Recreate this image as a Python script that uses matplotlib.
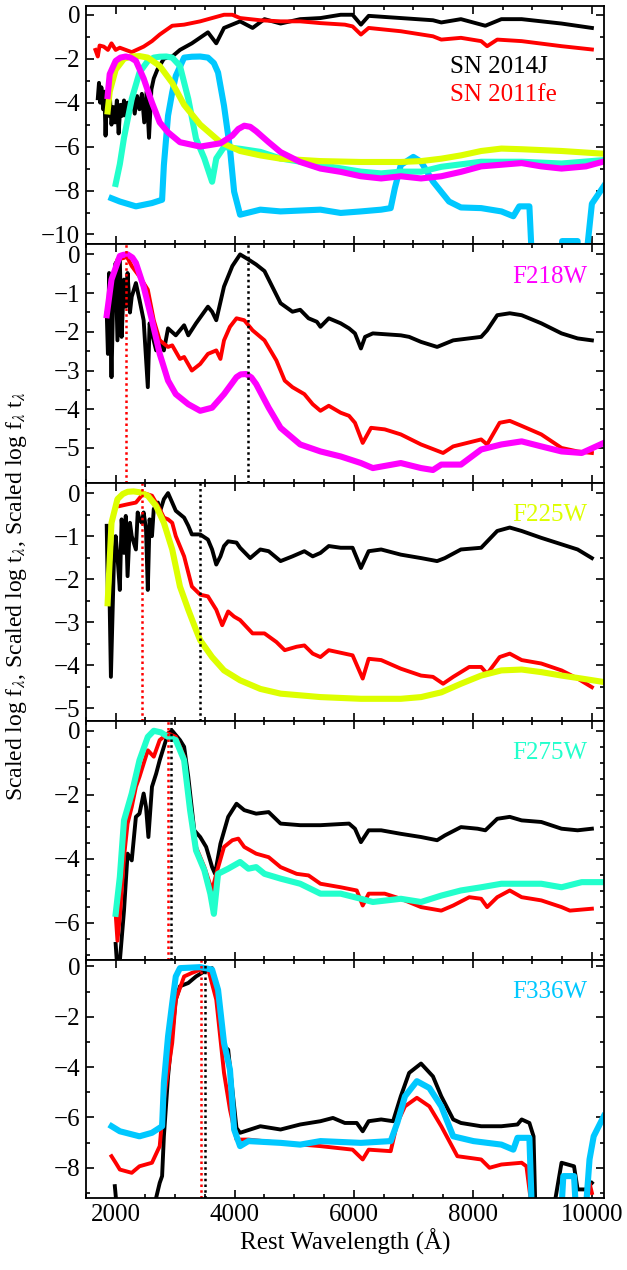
import numpy as np
import matplotlib

matplotlib.use("Agg")
import matplotlib.pyplot as plt
from matplotlib.ticker import MultipleLocator

plt.rcParams["font.family"] = ["Liberation Serif", "DejaVu Serif"]
plt.rcParams["mathtext.fontset"] = "stix"

nan = np.nan

# ---- panel 1: spectra and filter curves ----
p1_j14_wl = [1700, 1720, 1740, 1760, 1790, 1810, 1830, 1850, 1880, 1900, 1930, 1960, 1990, 2020,
             2050, 2080, 2110, 2140, 2170, 2200, 2240, 2280, 2320, 2360, 2400, 2440, 2480, 2520,
             2560, 2600, 2640, 2700, 2810, 2950, 3080, 3280, 3550, 3690, 3820, 4090, 4300, 4500,
             4770, 5100, 5440, 5780, 5980, 6120, 6250, 6790, 7330, 7470, 7800, 8210, 8480, 8820,
             9490, 10000]
p1_j14 = [-3.8, -3.1, -4.0, -3.3, -4.3, -3.5, -5.5, -3.8, -4.6, -3.6, -5.0, -4.2, -4.9, -3.9,
          -5.4, -4.1, -4.6, -3.9, -4.6, -4.0, -4.4, -3.8, -4.5, -3.7, -4.3, -3.6, -4.9, -3.5,
          -5.6, -3.4, -2.9, -2.5, -2.0, -1.9, -1.6, -1.3, -0.8, -1.3, -0.6, -0.3, -0.6, -0.2,
          -0.4, -0.2, -0.15, 0.0, 0.0, -0.45, -0.05, -0.15, -0.25, -0.35, -0.2, -0.5, -0.2, -0.2,
          -0.4, -0.6]
p1_f11_wl = [1660, 1700, 1730, 1800, 1870, 1930, 2000, 2070, 2270, 2470, 2610, 2740, 2950, 3150,
             3420, 3620, 3820, 3960, 4090, 4430, 4770, 5100, 5440, 5850, 5980, 6120, 6250, 6790,
             7330, 7470, 7800, 8140, 8240, 8410, 8820, 9490, 10000]
p1_f11 = [-1.6, -1.9, -1.4, -1.45, -1.6, -1.3, -1.6, -1.5, -1.7, -1.45, -1.2, -0.9, -0.5, -0.45,
          -0.3, -0.15, 0.0, 0.0, -0.15, -0.25, -0.3, -0.3, -0.38, -0.45, -0.53, -0.9, -0.6, -0.75,
          -0.98, -1.13, -1.05, -1.2, -1.43, -1.13, -1.2, -1.43, -1.58]
p1_f218_wl = [1865, 1900, 2000, 2080, 2170, 2250, 2340, 2470, 2610, 2740, 2880, 3080, 3420, 3760,
              3960, 4060, 4160, 4260, 4360, 4570, 4770, 5100, 5440, 5780, 6120, 6460, 6790, 7130,
              7470, 7800, 8140, 8820, 9150, 9490, 9900, 10170]
p1_f218 = [-3.7, -2.7, -2.1, -1.95, -1.9, -1.95, -2.1, -2.9, -4.0, -4.9, -5.35, -5.8, -6.0, -5.85,
           -5.5, -5.2, -5.05, -5.1, -5.3, -5.8, -6.25, -6.7, -7.0, -7.15, -7.35, -7.45, -7.35,
           -7.45, -7.35, -7.15, -6.9, -6.75, -6.9, -7.0, -6.9, -6.7]
p1_f225_wl = [1865, 1900, 2000, 2140, 2270, 2400, 2540, 2740, 2950, 3150, 3420, 3760, 4090, 4430,
              4770, 5440, 6120, 6790, 7130, 7470, 7800, 8140, 8480, 8820, 9490, 10170]
p1_f225 = [-4.4, -3.5, -2.5, -2.0, -1.9, -1.88, -1.95, -2.33, -3.1, -4.1, -5.0, -5.8, -6.2, -6.4,
           -6.55, -6.66, -6.7, -6.7, -6.66, -6.55, -6.4, -6.2, -6.09, -6.12, -6.2, -6.32]
p1_f275_wl = [2000, 2070, 2140, 2270, 2400, 2540, 2640, 2740, 2850, 2950, 3080, 3220, 3350, 3490,
              3620, 3690, 3820, 4090, 4430, 4770, 5440, 6120, 6460, 6790, 7130, 7470, 8140, 8820,
              9490, 10170]
p1_f275 = [-7.7, -6.8, -5.6, -3.83, -2.63, -2.1, -1.95, -1.91, -1.9, -1.95, -2.33, -3.83, -5.64,
           -6.54, -7.6, -6.54, -6.02, -6.1, -6.24, -6.54, -6.84, -7.14, -7.22, -7.14, -7.14,
           -6.92, -6.69, -6.69, -6.77, -6.62]
p1_f336_wl = [1930, 2070, 2340, 2610, 2780, 2810, 2880, 2950, 3010, 3150, 3280, 3420, 3550, 3650,
              3720, 3820, 3920, 3990, 4090, 4430, 4770, 5440, 5780, 6120, 6460, 6620, 6690, 6790,
              7000, 7130, 7330, 7600, 7800, 8140, 8480, 8680, 8780, 8950, 8990, 9490, 9500, 9760,
              9770, 9900, 9930, 10000, 10100, 10200]
p1_f336 = [-8.35, -8.5, -8.72, -8.57, -8.42, -6.84, -4.59, -3.53, -2.78, -1.95, -1.91, -1.9,
           -1.95, -2.2, -2.63, -4.14, -6.09, -8.05, -9.1, -8.87, -8.95, -8.87, -9.02, -8.95,
           -8.87, -8.8, -7.89, -6.84, -6.47, -6.69, -7.59, -8.5, -8.77, -8.8, -8.95, -9.17, -8.72,
           -8.72, -11.0, -11.0, -10.3, -10.3, -11.0, -11.0, -10.4, -8.6, -8.2, -7.8]

# ---- panel 2: F218W ----
p2_j14_wl = [1850, 1870, 1890, 1930, 1960, 2000, 2030, 2070, 2100, 2140, 2170, 2200, 2240, 2270,
             2340, 2400, 2470, 2540, 2570, 2610, 2680, 2740, 2810, 2880, 3010, 3150, 3220, 3350,
             3550, 3620, 3690, 3820, 3960, 4090, 4230, 4360, 4500, 4630, 4770, 4970, 5100, 5240,
             5380, 5440, 5580, 5780, 5920, 6020, 6120, 6190, 6320, 6790, 6930, 7130, 7400, 7670,
             8140, 8240, 8410, 8620, 8820, 9150, 9490, 9760, 10000]
p2_j14 = [-1.52, -2.57, -0.48, -3.17, -1.0, -0.22, -2.22, -0.13, -2.13, -0.65, -1.35, -0.48, -1.5,
          -1.09, -0.74, -1.17, -1.7, -3.43, -1.78, -2.04, -2.48, -2.22, -2.48, -1.91, -2.09, -1.83,
          -2.09, -1.78, -1.35, -1.48, -1.7, -0.83, -0.3, 0.0, -0.13, -0.26, -0.43, -0.83, -1.26,
          -1.48, -1.43, -1.65, -1.74, -1.87, -1.65, -1.78, -1.91, -2.04, -2.43, -2.13, -2.04,
          -2.09, -2.13, -2.26, -2.39, -2.22, -2.13, -1.96, -1.57, -1.52, -1.57, -1.78, -2.04,
          -2.17, -2.22]
p2_f11_wl = [2000, 2030, 2140, 2170, 2270, 2400, 2540, 2640, 2740, 2880, 2950, 3080, 3150, 3280,
             3420, 3550, 3690, 3760, 3820, 3920, 4030, 4160, 4300, 4500, 4700, 4840, 4970, 5170,
             5310, 5440, 5580, 5780, 5920, 6020, 6150, 6290, 6520, 6790, 7130, 7500, 7670, 8140,
             8240, 8450, 8620, 8820, 9150, 9490, 9760, 10000]
p2_f11 = [-0.3, -0.13, -0.09, 0.0, -0.3, -0.57, -0.91, -1.7, -2.22, -2.39, -2.35, -2.7, -2.65,
          -3.0, -2.83, -2.57, -2.48, -2.7, -2.22, -1.87, -1.65, -1.7, -1.96, -2.22, -2.74, -3.26,
          -3.43, -3.61, -3.87, -4.04, -3.91, -4.09, -4.17, -4.35, -4.87, -4.48, -4.52, -4.65,
          -4.91, -5.13, -4.96, -4.78, -4.91, -4.35, -4.3, -4.43, -4.65, -5.0, -5.09, -5.13]
p2_filt_wl = [1850, 1930, 2070, 2130, 2200, 2280, 2340, 2470, 2610, 2740, 2880, 3010, 3220, 3420,
              3620, 3820, 4030, 4100, 4190, 4280, 4360, 4570, 4770, 5100, 5440, 5780, 6120, 6320,
              6790, 7130, 7330, 7470, 7800, 8140, 8480, 8820, 9150, 9490, 9830, 10200]
p2_filt = [-1.57, -0.65, -0.04, -0.01, 0.0, -0.08, -0.22, -0.83, -1.7, -2.57, -3.26, -3.61, -3.87,
           -4.04, -3.96, -3.61, -3.17, -3.1, -3.09, -3.18, -3.35, -3.96, -4.48, -4.91, -5.09,
           -5.22, -5.39, -5.52, -5.39, -5.52, -5.57, -5.43, -5.43, -5.04, -4.91, -4.83, -4.96,
           -5.09, -5.13, -4.87]

# ---- panel 3: F225W ----
p3_j14_wl = [1850, 1870, 1880, 1920, 1970, 2000, 2030, 2070, 2100, 2140, 2170, 2200, 2240, 2270,
             2340, 2370, 2400, 2440, 2470, 2510, 2540, 2570, 2610, 2640, 2710, 2740, 2810, 2880,
             2950, 3010, 3150, 3220, 3280, 3420, 3550, 3620, 3690, 3760, 3820, 3890, 4030, 4090,
             4260, 4430, 4570, 4770, 4970, 5170, 5310, 5440, 5580, 5780, 5980, 6120, 6250, 6460,
             6790, 7130, 7400, 7530, 7800, 8140, 8410, 8620, 8820, 9150, 9490, 9760, 10000]
p3_j14 = [-0.76, -2.56, -1.0, -4.27, -1.62, -1.0, -1.47, -2.25, -0.61, -1.39, -0.53, -1.93, -0.69,
          -1.0, -1.31, -0.45, -0.61, -0.69, -0.45, -0.84, -2.25, -0.61, -1.0, -0.37, -0.22, -0.45,
          -0.14, 0.0, -0.22, -0.41, -0.57, -0.76, -0.96, -0.96, -1.08, -1.31, -1.66, -1.47, -1.23,
          -1.12, -1.15, -1.27, -1.51, -1.31, -1.35, -1.58, -1.47, -1.35, -1.47, -1.39, -1.23,
          -1.27, -1.27, -1.74, -1.35, -1.31, -1.43, -1.51, -1.58, -1.51, -1.31, -1.27, -0.88,
          -0.8, -0.88, -1.04, -1.19, -1.31, -1.51]
p3_f11_wl = [2070, 2200, 2340, 2470, 2610, 2740, 2810, 2880, 2950, 3010, 3150, 3280, 3420, 3550,
             3690, 3790, 3890, 3990, 4090, 4300, 4500, 4700, 4840, 5040, 5170, 5310, 5440, 5580,
             5780, 5980, 6150, 6250, 6460, 6790, 7130, 7330, 7500, 7670, 7940, 8140, 8240, 8450,
             8620, 8820, 9150, 9490, 9760, 10000]
p3_f11 = [-0.3, -0.26, -0.22, 0.0, -0.06, -0.37, -0.57, -0.61, -0.69, -1.0, -1.47, -2.17, -2.36,
          -2.4, -2.71, -3.07, -2.75, -2.87, -2.95, -3.26, -3.26, -3.46, -3.65, -3.57, -3.54,
          -3.73, -3.81, -3.65, -3.71, -3.77, -4.31, -3.85, -3.88, -4.08, -4.24, -4.27, -4.43,
          -4.27, -4.04, -4.04, -4.2, -3.81, -3.73, -3.88, -3.96, -4.12, -4.31, -4.51]
p3_filt_wl = [1865, 1930, 2030, 2120, 2200, 2300, 2400, 2540, 2680, 2810, 2950, 3080, 3220, 3350,
              3420, 3620, 3820, 4090, 4430, 4770, 5440, 6120, 6790, 7130, 7470, 7800, 8140, 8480,
              8820, 9150, 9490, 9830, 10200]
p3_filt = [-2.56, -0.69, -0.14, -0.02, 0.03, 0.04, 0.02, -0.06, -0.3, -0.69, -1.31, -2.17, -2.71,
           -3.18, -3.42, -3.81, -4.12, -4.35, -4.55, -4.66, -4.74, -4.78, -4.78, -4.74, -4.63,
           -4.43, -4.24, -4.12, -4.1, -4.16, -4.24, -4.31, -4.39]

# ---- panel 4: F275W ----
p4_j14_wl = [2000, 2030, 2070, 2140, 2200, 2270, 2340, 2400, 2470, 2510, 2550, 2610, 2680, 2740,
             2810, 2880, 2950, 3080, 3150, 3220, 3320, 3420, 3520, 3620, 3670, 3760, 3890, 4030,
             4160, 4360, 4570, 4770, 5100, 5440, 5920, 6020, 6120, 6250, 6460, 6790, 7130, 7400,
             7530, 7800, 8080, 8210, 8410, 8620, 8820, 9150, 9490, 9760, 10000]
p4_j14 = [-6.66, -7.5, -7.2, -5.62, -3.84, -4.05, -2.69, -2.59, -1.96, -2.38, -3.32, -1.75, -1.34,
          -0.92, -0.5, -0.08, 0.0, -0.29, -0.5, -1.44, -3.11, -3.32, -3.63, -4.26, -4.47, -3.53,
          -2.69, -2.28, -2.48, -2.59, -2.54, -2.9, -2.95, -2.95, -2.9, -3.06, -3.48, -3.11, -3.11,
          -3.22, -3.32, -3.42, -3.27, -3.01, -3.06, -3.11, -2.75, -2.69, -2.8, -2.85, -3.06,
          -3.11, -3.06]
p4_f11_wl = [2000, 2030, 2070, 2140, 2200, 2270, 2340, 2400, 2540, 2640, 2740, 2880, 3010, 3150,
             3220, 3350, 3490, 3620, 3690, 3820, 3960, 4060, 4160, 4360, 4570, 4770, 5040, 5240,
             5440, 5780, 6050, 6150, 6250, 6520, 6790, 7130, 7470, 7670, 7940, 8140, 8240, 8410,
             8620, 8820, 9150, 9490, 9630, 10000]
p4_f11 = [-5.72, -6.56, -5.82, -3.95, -2.9, -2.38, -1.75, -1.44, -0.61, -0.81, -0.29, -0.08,
          -0.19, -0.81, -1.96, -3.63, -4.26, -4.99, -4.47, -3.63, -3.42, -3.37, -3.63, -3.84,
          -3.95, -4.26, -4.47, -4.52, -4.78, -4.89, -4.99, -5.46, -5.09, -5.09, -5.25, -5.51,
          -5.62, -5.46, -5.2, -5.25, -5.51, -5.2, -4.99, -5.2, -5.3, -5.51, -5.62, -5.56]
p4_filt_wl = [2000, 2070, 2140, 2270, 2400, 2540, 2640, 2760, 2880, 3010, 3150, 3250, 3350, 3490,
              3590, 3650, 3720, 3890, 4090, 4230, 4360, 4500, 4770, 5100, 5440, 5780, 6120, 6320,
              6790, 7130, 7470, 7800, 8140, 8480, 8820, 9150, 9490, 9830, 10200]
p4_filt = [-5.72, -4.57, -2.8, -1.96, -0.92, -0.19, 0.0, -0.05, -0.19, -0.29, -0.92, -2.48, -3.74,
           -4.36, -5.09, -5.72, -4.47, -4.31, -4.1, -4.31, -4.26, -4.47, -4.62, -4.78, -5.09,
           -5.09, -5.25, -5.35, -5.25, -5.35, -5.15, -4.99, -4.89, -4.78, -4.78, -4.78, -4.89,
           -4.73, -4.73]

# ---- panel 5: F336W ----
p5_j14_wl = [1986, 2020, 2640, 2680, 2740, 2780, 2810, 2880, 2950, 3010, 3080, 3220, 3350, 3490,
             3620, 3720, 3820, 3890, 3960, 4030, 4090, 4430, 4770, 5100, 5440, 5650, 5850, 6050,
             6150, 6250, 6460, 6660, 6790, 6930, 7130, 7330, 7470, 7670, 7800, 8140, 8480, 8750,
             8820, 8950, 9020, 9050, 9360, 9490, 9700, 9760, 9900, 10000]
p5_j14 = [-8.73, -9.6, -9.6, -9.19, -8.6, -8.33, -6.75, -4.37, -2.65, -1.32, -0.79, -0.66, -0.4,
          -0.2, -0.07, -1.32, -3.17, -3.31, -4.89, -6.42, -6.61, -6.35, -6.48, -6.28, -6.15, -6.02,
          -6.22, -6.22, -6.55, -6.15, -6.08, -6.15, -5.16, -4.23, -3.86, -4.37, -5.16, -6.08,
          -6.22, -6.35, -6.35, -6.28, -6.08, -6.22, -6.75, -9.6, -9.6, -7.8, -7.94, -8.86, -8.86,
          -8.6]
p5_f11_wl = [1930, 2000, 2070, 2270, 2400, 2610, 2740, 2810, 2950, 3010, 3150, 3280, 3420, 3550,
             3690, 3820, 3920, 4030, 4230, 4770, 5440, 5980, 6150, 6250, 6620, 6730, 6860, 7060,
             7270, 7470, 7740, 8140, 8280, 8480, 8820, 8900, 8990, 9000, 9880, 9960, 10000]
p5_f11 = [-7.54, -7.8, -8.07, -8.2, -7.94, -7.8, -7.14, -5.29, -3.04, -1.32, -0.4, -0.26, -0.13,
          -0.07, -1.32, -4.23, -5.69, -6.88, -6.88, -7.01, -7.14, -7.28, -7.67, -7.28, -7.34,
          -6.22, -5.56, -5.22, -5.56, -6.35, -7.54, -7.67, -8.0, -7.87, -7.8, -7.94, -9.6, nan,
          -9.6, -8.6, -9.0]
p5_filt_wl = [1932, 2070, 2400, 2610, 2780, 2810, 2880, 2950, 3010, 3080, 3420, 3620, 3720, 3820,
              3920, 3990, 4090, 4230, 4770, 5100, 5440, 6120, 6620, 6730, 6860, 7060, 7270, 7470,
              7670, 8010, 8480, 8680, 8750, 8950, 8990, 9490, 9520, 9700, 9730, 9900, 9960, 10030,
              10200]
p5_filt = [-6.35, -6.55, -6.75, -6.61, -6.35, -4.63, -2.78, -1.46, -0.4, -0.07, -0.03, -0.13,
           -0.93, -3.04, -4.1, -6.48, -7.14, -6.94, -7.01, -7.08, -6.94, -7.01, -6.94, -6.22,
           -5.16, -4.56, -4.83, -5.56, -6.75, -6.94, -7.08, -7.28, -6.81, -6.81, -9.6, -9.6,
           -8.33, -8.33, -9.6, -9.6, -7.67, -6.75, -5.95]

# filter-weighted effective wavelengths (red = 2011fe, black = 2014J)
filters = ["F218W", "F225W", "F275W", "F336W"]
lam_eff_11fe = [2180, 2450, 2880, 3440]
lam_eff_14j = [4230, 3420, 2930, 3500]

C_218, C_225, C_275, C_336 = "#ff00ff", "#ddff00", "#22ffcc", "#00c8ff"
filter_colors = [C_218, C_225, C_275, C_336]

panel_ylim = [(-10.45, 0.4), (-5.9, 0.26), (-5.3, 0.24), (-7.15, 0.3), (-9.2, 0.27)]
panel_major = [2, 1, 1, 2, 2]
panel_minor = [1, 0.5, 0.5, 0.5, 1]

fig = plt.figure(figsize=(6.27, 12.7), dpi=100)
gs = fig.add_gridspec(5, 1, left=0.137, right=0.963, top=0.9953, bottom=0.0567, hspace=0)
axes = [fig.add_subplot(gs[i]) for i in range(5)]

LW_SPEC, LW_FILT = 2.8, 4.4

ax = axes[0]
ax.plot(p1_j14_wl, p1_j14, color="black", lw=LW_SPEC)
ax.plot(p1_f11_wl, p1_f11, color="red", lw=LW_SPEC)
ax.plot(p1_f336_wl, p1_f336, color=C_336, lw=LW_FILT)
ax.plot(p1_f275_wl, p1_f275, color=C_275, lw=LW_FILT)
ax.plot(p1_f225_wl, p1_f225, color=C_225, lw=LW_FILT)
ax.plot(p1_f218_wl, p1_f218, color=C_218, lw=LW_FILT)
ax.text(0.703, 0.745, "SN 2014J", transform=ax.transAxes, color="black",
        fontsize=18, ha="left", va="center")
ax.text(0.703, 0.628, "SN 2011fe", transform=ax.transAxes, color="red",
        fontsize=18, ha="left", va="center")

panel_data = [
    (p2_j14_wl, p2_j14, p2_f11_wl, p2_f11, p2_filt_wl, p2_filt),
    (p3_j14_wl, p3_j14, p3_f11_wl, p3_f11, p3_filt_wl, p3_filt),
    (p4_j14_wl, p4_j14, p4_f11_wl, p4_f11, p4_filt_wl, p4_filt),
    (p5_j14_wl, p5_j14, p5_f11_wl, p5_f11, p5_filt_wl, p5_filt),
]
for k, (jw, jv, fw, fv, tw, tv) in enumerate(panel_data):
    ax = axes[k + 1]
    ax.plot(jw, jv, color="black", lw=LW_SPEC)
    ax.plot(fw, fv, color="red", lw=LW_SPEC)
    ax.plot(tw, tv, color=filter_colors[k], lw=LW_FILT)
    ax.axvline(lam_eff_11fe[k], color="red", lw=1.8, ls=(0, (1, 1.3)))
    ax.axvline(lam_eff_14j[k], color="black", lw=1.8, ls=(0, (1, 1.3)))
    ax.text(0.969, 0.865, filters[k], transform=ax.transAxes, color=filter_colors[k],
            fontsize=18, ha="right", va="center")

for i, ax in enumerate(axes):
    ax.set_xlim(1500, 10200)
    ax.set_ylim(*panel_ylim[i])
    ax.xaxis.set_major_locator(MultipleLocator(2000))
    ax.xaxis.set_minor_locator(MultipleLocator(500))
    ax.yaxis.set_major_locator(MultipleLocator(panel_major[i]))
    ax.yaxis.set_minor_locator(MultipleLocator(panel_minor[i]))
    ax.tick_params(which="both", direction="in", top=True, right=True, width=1.2,
                   labelsize=18, pad=4)
    ax.tick_params(which="major", length=6)
    ax.tick_params(which="minor", length=3.2)
    for s in ax.spines.values():
        s.set_linewidth(1.3)
    if i < 4:
        ax.tick_params(labelbottom=False)

axes[-1].set_xlabel("Rest Wavelength (Å)", fontsize=18, labelpad=2)
fig.text(0.026, 0.531,
         r"Scaled log f$_\lambda$, Scaled log t$_\lambda$, Scaled log f$_\lambda$ t$_\lambda$",
         fontsize=17, rotation=90, ha="center", va="center")

fig.savefig("out.png", dpi=100)
